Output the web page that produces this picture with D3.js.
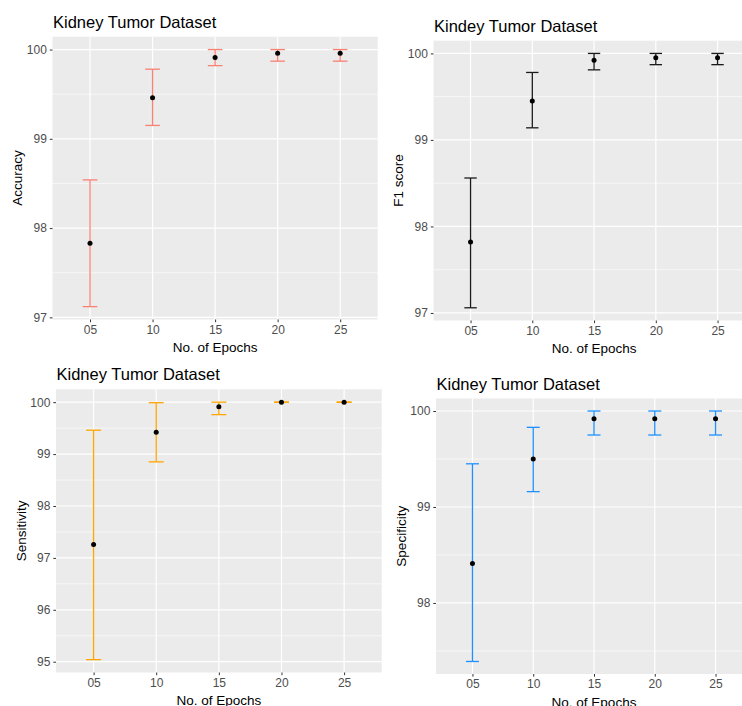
<!DOCTYPE html>
<html>
<head>
<meta charset="utf-8">
<script src="https://cdn.jsdelivr.net/npm/d3@7"></script>
<style>
  body { margin: 0; background: white; }
  text { font-family: "Liberation Sans", Arial, sans-serif; }
</style>
</head>
<body>
<div id="container"></div>
<script>
let w = 742;
let h = 706;

// data
const epochs = ["05", "10", "15", "20", "25"];

const accMean = [97.83, 99.46, 99.91, 99.96, 99.96];
const accLow  = [97.12, 99.15, 99.82, 99.87, 99.87];
const accHigh = [98.54, 99.78, 100, 100, 100];

const f1Mean = [97.82, 99.45, 99.92, 99.95, 99.95];
const f1Low  = [97.06, 99.14, 99.81, 99.87, 99.87];
const f1High = [98.56, 99.78, 100, 100, 100];

const sensMean = [97.26, 99.42, 99.91, 100, 100];
const sensLow  = [95.04, 98.85, 99.76, 100, 100];
const sensHigh = [99.46, 99.99, 100, 100, 100];

const specMean = [98.41, 99.50, 99.92, 99.92, 99.92];
const specLow  = [97.39, 99.16, 99.75, 99.75, 99.75];
const specHigh = [99.45, 99.83, 100, 100, 100];

const accTicks = [97, 98, 99, 100];
const f1Ticks = [97, 98, 99, 100];
const sensTicks = [95, 96, 97, 98, 99, 100];
const specTicks = [98, 99, 100];

let viz = d3.select("#container")
  .append("svg")
    .attr("width", w)
    .attr("height", h)
    .style("background-color", "white");

// each panel: box of the grey plotting area, title, colours
let panels = [
  {title: "Kidney Tumor Dataset", ylab: "Accuracy", mean: accMean, lo: accLow, hi: accHigh, ticks: accTicks,
   color: "#FA8072", x0: 52.5, x1: 377.7, y0: 36.7, y1: 319.5, cap: 7.3},
  {title: "Kindey Tumor Dataset", ylab: "F1 score", mean: f1Mean, lo: f1Low, hi: f1High, ticks: f1Ticks,
   color: "#1a1a1a", x0: 433.5, x1: 754.6, y0: 40.7, y1: 320.5, cap: 6.2},
  {title: "Kidney Tumor Dataset", ylab: "Sensitivity", mean: sensMean, lo: sensLow, hi: sensHigh, ticks: sensTicks,
   color: "#FFA500", x0: 56, x1: 381.7, y0: 389.3, y1: 672.5, cap: 7.5},
  {title: "Kidney Tumor Dataset", ylab: "Specificity", mean: specMean, lo: specLow, hi: specHigh, ticks: specTicks,
   color: "#1E90FF", x0: 436, x1: 752, y0: 398.5, y1: 674, cap: 6.5}
];

panels.forEach(function(p){
  let rows = epochs.map((e, i) => ({e: e, m: p.mean[i], lo: p.lo[i], hi: p.hi[i]}));

  let lo = d3.min(p.lo), hi = d3.max(p.hi);
  let pad = (hi - lo) * 0.05;
  let y = d3.scaleLinear().domain([lo - pad, hi + pad]).range([p.y1, p.y0]);
  let x = d3.scalePoint().domain(epochs).range([p.x0, p.x1]).padding(0.6);

  let g = viz.append("g");

  g.append("rect")
    .attr("x", p.x0).attr("y", p.y0)
    .attr("width", p.x1 - p.x0).attr("height", p.y1 - p.y0)
    .attr("fill", "#EBEBEB");

  // minor grid
  let minor = [];
  for (let i = 0; i < p.ticks.length - 1; i++) minor.push((p.ticks[i] + p.ticks[i+1]) / 2);
  let below = p.ticks[0] - 0.5;
  if (below >= lo - pad) minor.push(below);
  g.selectAll(".minor").data(minor).enter().append("line")
    .attr("x1", p.x0).attr("x2", p.x1)
    .attr("y1", d => y(d)).attr("y2", d => y(d))
    .attr("stroke", "white").attr("stroke-width", 0.6);

  // major grid
  g.selectAll(".hmajor").data(p.ticks).enter().append("line")
    .attr("x1", p.x0).attr("x2", p.x1)
    .attr("y1", d => y(d)).attr("y2", d => y(d))
    .attr("stroke", "white").attr("stroke-width", 1.2);
  g.selectAll(".vmajor").data(epochs).enter().append("line")
    .attr("x1", d => x(d)).attr("x2", d => x(d))
    .attr("y1", p.y0).attr("y2", p.y1)
    .attr("stroke", "white").attr("stroke-width", 1.2);

  // axes
  let yAxis = d3.axisLeft(y).tickValues(p.ticks).tickSize(2.7).tickPadding(3).tickFormat(d3.format("d"));
  let ya = g.append("g").attr("transform", "translate(" + p.x0 + ",0)").call(yAxis);
  let xAxis = d3.axisBottom(x).tickSize(2.7).tickPadding(3);
  let xa = g.append("g").attr("transform", "translate(0," + p.y1 + ")").call(xAxis);
  [ya, xa].forEach(function(a){
    a.select(".domain").remove();
    a.selectAll(".tick line").attr("stroke", "#333333").attr("stroke-width", 1);
    a.selectAll(".tick text").attr("fill", "#4D4D4D").style("font-size", "12px")
      .style("font-family", "'Liberation Sans', Arial, sans-serif");
  });

  // error bars
  let eb = g.selectAll(".eb").data(rows).enter().append("g");
  eb.append("line")
    .attr("x1", d => x(d.e)).attr("x2", d => x(d.e))
    .attr("y1", d => y(d.lo)).attr("y2", d => y(d.hi))
    .attr("stroke", p.color).attr("stroke-width", 1.3);
  eb.append("line")
    .attr("x1", d => x(d.e) - p.cap).attr("x2", d => x(d.e) + p.cap)
    .attr("y1", d => y(d.hi)).attr("y2", d => y(d.hi))
    .attr("stroke", p.color).attr("stroke-width", 1.3);
  eb.append("line")
    .attr("x1", d => x(d.e) - p.cap).attr("x2", d => x(d.e) + p.cap)
    .attr("y1", d => y(d.lo)).attr("y2", d => y(d.lo))
    .attr("stroke", p.color).attr("stroke-width", 1.3);

  g.selectAll(".pt").data(rows).enter().append("circle")
    .attr("cx", d => x(d.e)).attr("cy", d => y(d.m))
    .attr("r", 2.5).attr("fill", "black");

  // titles
  g.append("text")
    .attr("x", p.x0 + 0.5).attr("y", p.y0 - 9)
    .style("font-size", "16.5px").attr("fill", "black")
    .text(p.title);
  g.append("text")
    .attr("x", (p.x0 + Math.min(p.x1, w)) / 2 + (p.x1 > w ? 0 : 0))
    .attr("x", x("15"))
    .attr("y", p.y1 + 32.5)
    .attr("text-anchor", "middle")
    .style("font-size", "13.5px").attr("fill", "black")
    .text("No. of Epochs");
  g.append("text")
    .attr("transform", "translate(" + (p.x0 - 35) + "," + ((p.y0 + p.y1) / 2) + ") rotate(-90)")
    .attr("dy", "0.35em")
    .attr("text-anchor", "middle")
    .style("font-size", "13.5px").attr("fill", "black")
    .text(p.ylab);
});
</script>
</body>
</html>
